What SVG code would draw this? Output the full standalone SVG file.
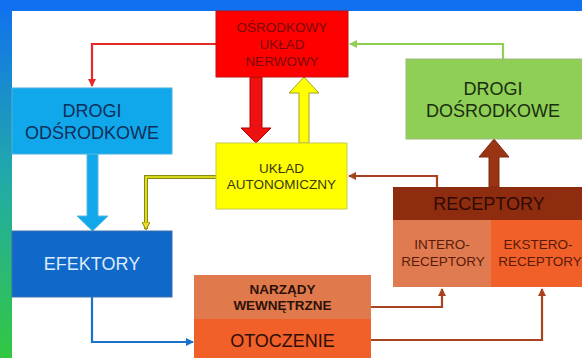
<svg xmlns="http://www.w3.org/2000/svg" width="582" height="358" viewBox="0 0 582 358">
<defs>
<linearGradient id="side" x1="0" y1="0" x2="0" y2="1">
<stop offset="0" stop-color="#1070f0"/>
<stop offset="0.5" stop-color="#22aaa8"/>
<stop offset="1" stop-color="#32c842"/>
</linearGradient>
<marker id="mRed" markerWidth="8" markerHeight="8" refX="7" refY="4" orient="auto" markerUnits="userSpaceOnUse"><path d="M0,0 L8,4 L0,8 z" fill="#e52a2a"/></marker>
<marker id="mGreen" markerWidth="8" markerHeight="8" refX="7" refY="4" orient="auto" markerUnits="userSpaceOnUse"><path d="M0,0 L8,4 L0,8 z" fill="#8fcf55"/></marker>
<marker id="mBrown" markerWidth="8" markerHeight="8" refX="7" refY="4" orient="auto" markerUnits="userSpaceOnUse"><path d="M0,0 L8,4 L0,8 z" fill="#a8431f"/></marker>
<marker id="mBlue" markerWidth="8" markerHeight="8" refX="7" refY="4" orient="auto" markerUnits="userSpaceOnUse"><path d="M0,0 L8,4 L0,8 z" fill="#1a72c8"/></marker>
<marker id="mYel" markerWidth="8" markerHeight="8" refX="7" refY="4" orient="auto" markerUnits="userSpaceOnUse"><path d="M0,0 L8,4 L0,8 z" fill="#e8e020" stroke="#8a8a10" stroke-width="1"/></marker>
</defs>
<style>
text{font-family:"Liberation Sans",Arial,sans-serif;text-anchor:middle}
.s{font-size:13.5px}
.l{font-size:18px}
.b{font-weight:bold}
.thin{fill:none;stroke-width:2.2}
</style>
<rect x="0" y="0" width="582" height="358" fill="#ffffff"/>
<rect x="0" y="0" width="582" height="11" fill="#1070f0"/>
<rect x="0" y="0" width="12" height="358" fill="url(#side)"/>
<rect x="0" y="0" width="12" height="11" fill="#1070f0"/>

<g id="connectors">
<polyline class="thin" points="216,44 92,44 92,86" stroke="#e52a2a" marker-end="url(#mRed)"/>
<polyline class="thin" points="503,59 503,44 350,44" stroke="#8fcf55" marker-end="url(#mGreen)"/>
<polyline class="thin" points="437,187 437,176 349,176" stroke="#a8431f" marker-end="url(#mBrown)"/>
<polyline fill="none" points="216,177 146,177 146,229" stroke="#8a8a10" stroke-width="4"/>
<polyline fill="none" points="216,177 146,177 146,229" stroke="#f0f020" stroke-width="1.6" marker-end="url(#mYel)"/>
<polyline class="thin" points="92,297 92,342 193,342" stroke="#1a72c8" marker-end="url(#mBlue)"/>
<polyline class="thin" points="371,307 442,307 442,289" stroke="#a8431f" marker-end="url(#mBrown)"/>
<polyline class="thin" points="371,340 542,340 542,289" stroke="#a8431f" marker-end="url(#mBrown)"/>
<polygon points="250,77 262,77 262,128 271,128 256,143 241,128 250,128" fill="#ee1111" stroke="#b00000" stroke-width="1"/>
<polygon points="299,143 309,143 309,93 319,93 304,77 289,93 299,93" fill="#ffff00" stroke="#a0a020" stroke-width="1"/>
<polygon points="87,154 98,154 98,216 108,216 92.5,231 77,216 87,216" fill="#10a8ea" stroke="#60b8e0" stroke-width="1"/>
<polygon points="489,187 499,187 499,157 509,157 494,139 479,157 489,157" fill="#9a3514" stroke="#7a2a10" stroke-width="1"/>
</g>

<g id="oun">
<rect x="216" y="11" width="132" height="66" fill="#ff0000" stroke="#c01010" stroke-width="1"/>
<text class="s" x="282" y="32" fill="#7a0a0a">OŚRODKOWY</text>
<text class="s" x="282" y="49" fill="#7a0a0a">UKŁAD</text>
<text class="s" x="282" y="66" fill="#7a0a0a">NERWOWY</text>
</g>

<g id="autonom">
<rect x="216" y="143" width="131" height="66" fill="#ffff00" stroke="#c8c850" stroke-width="1"/>
<text class="s" x="281.5" y="173" fill="#3a3a10">UKŁAD</text>
<text class="s" x="281.5" y="189" fill="#3a3a10">AUTONOMICZNY</text>
</g>

<g id="odsrodkowe">
<rect x="12" y="88" width="160" height="66" fill="#10a8ea" stroke="#4ab0e0" stroke-width="1"/>
<text class="l" x="92" y="117" fill="#0f2f5a">DROGI</text>
<text class="l" x="92" y="139" fill="#0f2f5a">ODŚRODKOWE</text>
</g>

<g id="dosrodkowe">
<rect x="406" y="59" width="176" height="80" fill="#8fcf55" stroke="#a0b880" stroke-width="1"/>
<text class="l" x="493" y="95" fill="#1a2e10">DROGI</text>
<text class="l" x="493" y="117" fill="#1a2e10">DOŚRODKOWE</text>
</g>

<g id="efektory">
<rect x="12" y="231" width="160" height="66" fill="#1068c8" stroke="#3a70b0" stroke-width="1"/>
<text class="l" x="92" y="270" fill="#dcecff">EFEKTORY</text>
</g>

<g id="receptory">
<rect x="393" y="187" width="189" height="33" fill="#8e2c10"/>
<text class="l" x="489" y="210" fill="#2e0a02">RECEPTORY</text>
</g>

<g id="intero">
<rect x="393" y="220" width="98" height="67" fill="#e07a50"/>
<text class="s" x="442" y="249" fill="#5a1a08">INTERO-</text>
<text class="s" x="443" y="266" fill="#5a1a08">RECEPTORY</text>
</g>

<g id="ekstero">
<rect x="491" y="220" width="91" height="67" fill="#f06028"/>
<text class="s" x="538" y="249" fill="#5a1a08">EKSTERO-</text>
<text class="s" x="540" y="266" fill="#5a1a08">RECEPTORY</text>
</g>

<g id="narzady">
<rect x="194" y="275" width="177" height="44" fill="#e07a4c"/>
<text class="s b" x="282.5" y="294" fill="#2e1208">NARZĄDY</text>
<text class="s b" x="282.5" y="310" fill="#2e1208">WEWNĘTRZNE</text>
</g>

<g id="otoczenie">
<rect x="194" y="319" width="177" height="39" fill="#f06028"/>
<text class="l" x="282.5" y="347" fill="#2e0e04">OTOCZENIE</text>
</g>
</svg>
